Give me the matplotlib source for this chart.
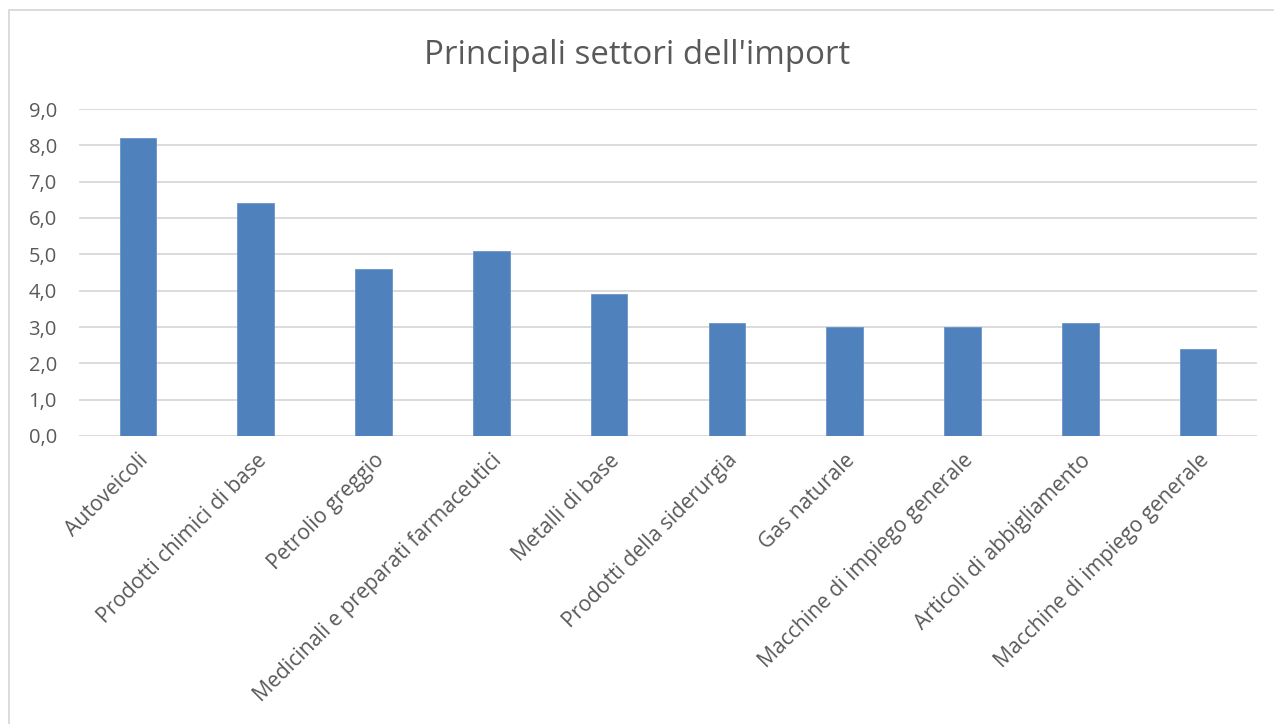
import matplotlib
matplotlib.use("Agg")
import matplotlib.pyplot as plt
from matplotlib.patches import Rectangle
from matplotlib.ticker import FuncFormatter
import matplotlib.transforms as mtrans

categories = ["Autoveicoli", "Prodotti chimici di base", "Petrolio greggio",
              "Medicinali e preparati farmaceutici", "Metalli di base",
              "Prodotti della siderurgia", "Gas naturale",
              "Macchine di impiego generale", "Articoli di abbigliamento",
              "Macchine di impiego generale"]
values = [8.2, 6.4, 4.6, 5.1, 3.9, 3.1, 3.0, 3.0, 3.1, 2.4]
title = "Principali settori dell'import"

W, H = 1274, 724
fig = plt.figure(figsize=(W / 100, H / 100), dpi=100)
plt.rcParams['font.family'] = ['Open Sans', 'DejaVu Sans']

# chart border
fig.patches.append(Rectangle((9 / W, -0.1), 1.2, (H - 10) / H + 0.1,
                             transform=fig.transFigure, fill=False,
                             edgecolor='#d9d9d9', linewidth=1.3))

left, right, top, bottom = 79, 1257, 109, 436
ax = fig.add_axes([left / W, 1 - bottom / H, (right - left) / W, (bottom - top) / H])
x = list(range(len(values)))
ax.bar(x, values, width=0.31, color='#4f81bd', edgecolor='#6a93c8', linewidth=0.6, zorder=3)
ax.set_xlim(-0.5, len(values) - 0.5)
ax.set_ylim(0, 9)
ax.set_yticks(range(0, 10))
ax.yaxis.set_major_formatter(FuncFormatter(lambda v, p: f"{v:.1f}".replace('.', ',')))
ax.grid(axis='y', color='#d9d9d9', linewidth=1.3, zorder=0)
for s in ax.spines.values():
    s.set_visible(False)
ax.tick_params(axis='both', length=0, colors='#595959')
ax.tick_params(axis='y', pad=16, labelsize=14.5)
ax.set_xticks(x)
ax.set_xticklabels(categories, rotation=45, ha='right', va='top',
                   rotation_mode='anchor', fontsize=15.2, color='#595959')
for lbl in ax.get_xticklabels():
    lbl.set_transform(lbl.get_transform() + mtrans.ScaledTranslation(0.15, 0.0, fig.dpi_scale_trans))
ax.tick_params(axis='x', pad=10)

fig.text(0.5, 1 - 55 / H, title, ha='center', va='center', fontsize=23.8, color='#595959')

fig.savefig("out.png", dpi=100, facecolor='white')
